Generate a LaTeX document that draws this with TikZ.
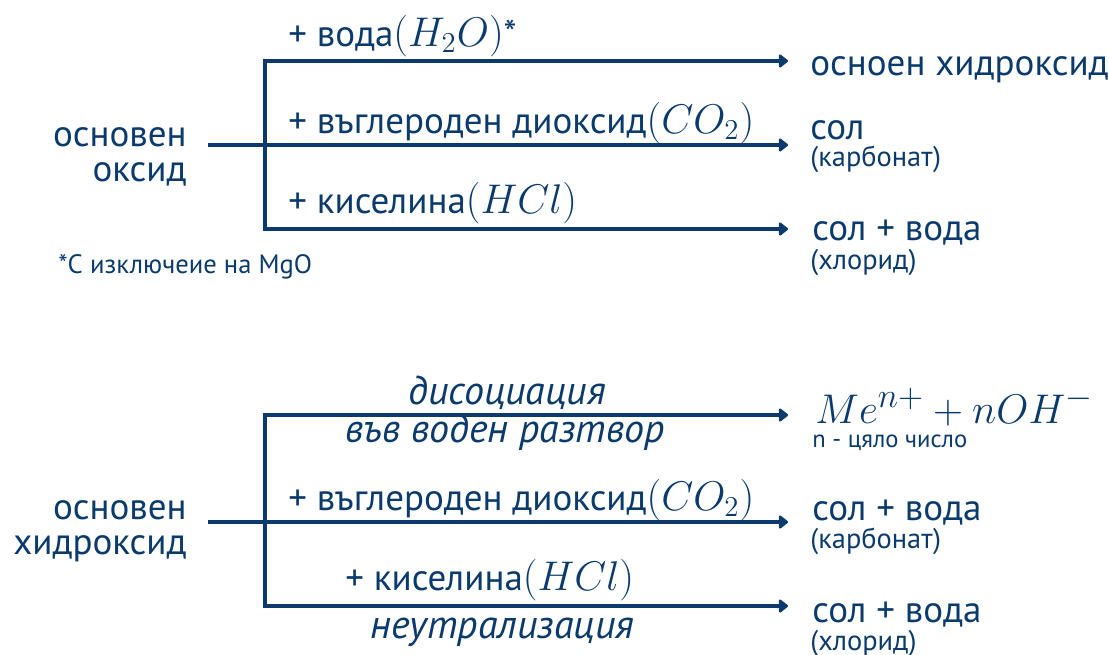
\documentclass[tikz,border=0pt]{standalone}
\usepackage[no-math]{fontspec}
\setmainfont{PT Sans}
\usetikzlibrary{arrows.meta}
\definecolor{navy}{HTML}{0B3A6C}

\newcommand{\formula}[1]{{\fontsize{22}{22}\selectfont$#1$}}

\tikzset{
	branch/.style={draw=navy, line width=1.9pt, line cap=rect},
	react/.style={branch, line cap=butt, -{Triangle[length=5pt,width=7.5pt,round]}},
	bigtext/.style={text=navy, inner sep=0pt, font=\fontsize{18.5}{17.5}\selectfont},
	smalltext/.style={text=navy, inner sep=0pt, font=\fontsize{14.2}{14.2}\selectfont},
	tinytext/.style={text=navy, inner sep=0pt, font=\fontsize{12.3}{12.3}\selectfont},
	notetext/.style={text=navy, inner sep=0pt, font=\fontsize{13.3}{13.3}\selectfont},
	mathtext/.style={text=navy, inner sep=0pt, font=\fontsize{22.8}{22.8}\selectfont},
	condtext/.style={text=navy, inner sep=0pt, font=\fontsize{20}{20}\selectfont\itshape},
}

\begin{document}
\begin{tikzpicture}[x=0.5pt, y=-0.5pt]
	\useasboundingbox (0,0) rectangle (1109,654);

	\node[bigtext, align=right, anchor=east] (oxide) at (187,157) {основен\\оксид};
	\coordinate (ostart) at (208,145);
	\coordinate (otop) at (265,61);
	\coordinate (obot) at (265,229);
	\coordinate (oend1) at (788,61);
	\coordinate (oend2) at (788,145);
	\coordinate (oend3) at (788,229);
	\draw[branch] (otop) -- (obot);
	\draw[react] (otop) -- (oend1);
	\draw[react] (ostart) -- (oend2);
	\draw[react] (obot) -- (oend3);
	\node[bigtext, anchor=base west] (owater) at (288,46) {+ вода\formula{(H_2O)}*};
	\node[bigtext, anchor=base west] (oco) at (288,133) {+ въглероден диоксид\formula{(CO_2)}};
	\node[bigtext, anchor=base west] (oacid) at (288,213) {+ киселина\formula{(HCl)}};
	\node[bigtext, anchor=base west] (ores1) at (810,75) {осноен хидроксид};
	\node[bigtext, anchor=base west] (ores2) at (810,139) {сол};
	\node[smalltext, anchor=base west] (ores2b) at (810,166) {(карбонат)};
	\node[bigtext, anchor=base west] (ores3) at (812,240) {сол + вода};
	\node[smalltext, anchor=base west] (ores3b) at (810,269) {(хлорид)};
	\node[notetext, anchor=base west] (note) at (58,273) {*С изключеие на MgO};

	\node[bigtext, align=right, anchor=east] (hydroxide) at (187,531) {основен\\хидроксид};
	\coordinate (hstart) at (208,522);
	\coordinate (htop) at (265,415);
	\coordinate (hbot) at (265,606);
	\coordinate (hend1) at (788,415);
	\coordinate (hend2) at (788,522);
	\coordinate (hend3) at (788,606);
	\draw[branch] (htop) -- (hbot);
	\draw[react] (htop) -- (hend1);
	\draw[react] (hstart) -- (hend2);
	\draw[react] (hbot) -- (hend3);
	\node[condtext, anchor=base] (hdiss) at (507,404) {дисоциация};
	\node[condtext, anchor=base] (hsol) at (505,442) {във воден разтвор};
	\node[bigtext, anchor=base west] (hco) at (288,510) {+ въглероден диоксид\formula{(CO_2)}};
	\node[bigtext, anchor=base west] (hacid) at (345,590) {+ киселина\formula{(HCl)}};
	\node[condtext, anchor=base west] (hneut) at (370,638) {неутрализация};
	\node[mathtext, anchor=base west] (hres1) at (815,423) {$Me^{n+}+nOH^-$};
	\node[tinytext, anchor=base west] (hres1b) at (812,447) {n - цяло число};
	\node[bigtext, anchor=base west] (hres2) at (812,520) {сол + вода};
	\node[smalltext, anchor=base west] (hres2b) at (810,548) {(карбонат)};
	\node[bigtext, anchor=base west] (hres3) at (812,622) {сол + вода};
	\node[smalltext, anchor=base west] (hres3b) at (810,650) {(хлорид)};
\end{tikzpicture}
\end{document}
